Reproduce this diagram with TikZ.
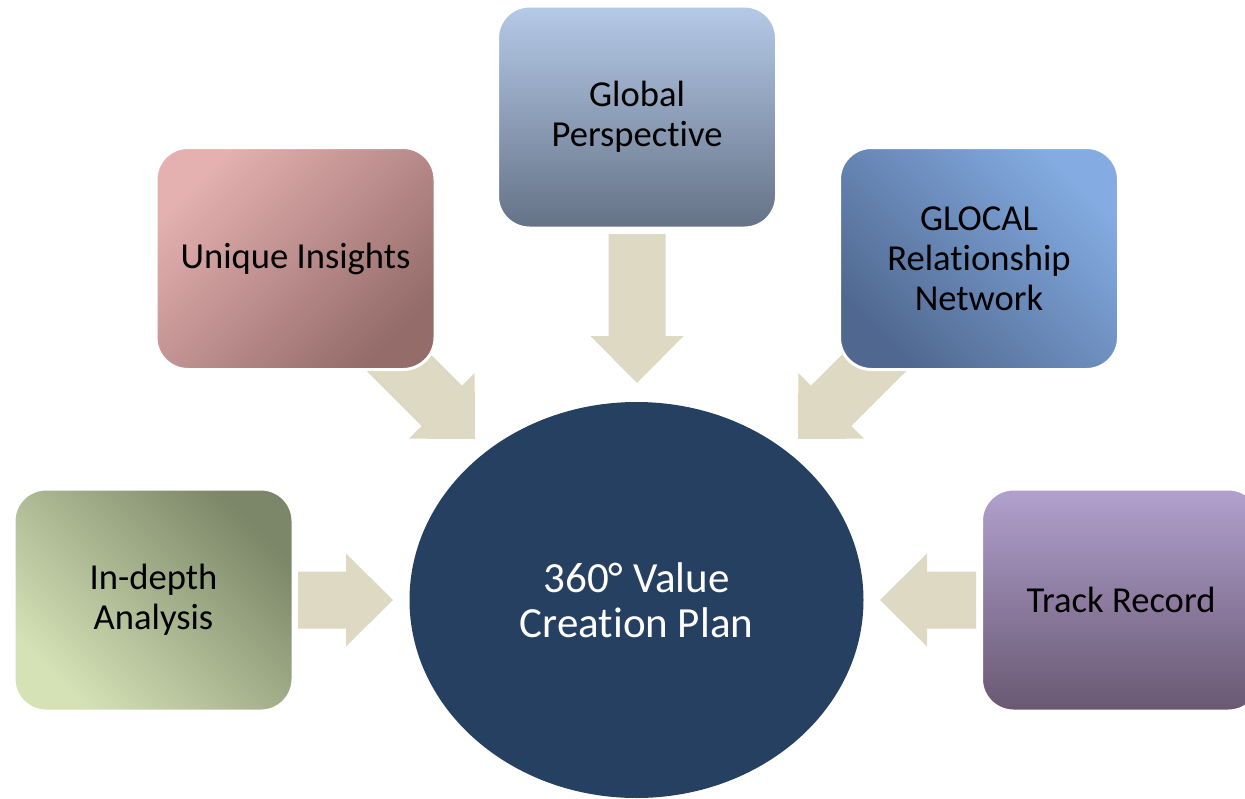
\documentclass[tikz,border=0pt]{standalone}
\usepackage{fontspec}
\usetikzlibrary{shapes.geometric}
\setmainfont{Carlito}[Ligatures=NoCommon]
\definecolor{arrowfill}{RGB}{221,217,195}
\definecolor{navy}{RGB}{38,64,97}
\definecolor{uiA}{RGB}{228,176,176}
\definecolor{uiB}{RGB}{148,108,106}
\definecolor{gpA}{RGB}{181,202,232}
\definecolor{gpB}{RGB}{100,114,134}
\definecolor{glA}{RGB}{132,172,226}
\definecolor{glB}{RGB}{80,104,144}
\definecolor{idA}{RGB}{212,226,182}
\definecolor{idB}{RGB}{124,134,104}
\definecolor{trA}{RGB}{178,160,206}
\definecolor{trB}{RGB}{104,88,114}
\tikzset{
  box/.style={rounded corners=32pt, draw=white, line width=3pt,
    minimum width=279pt, minimum height=222pt, align=center,
    font=\fontsize{36.6}{40}\selectfont, text=black, inner sep=0pt},
  hub/.style={ellipse, fill=navy, draw=none, minimum width=454pt,
    minimum height=396pt, align=center, text=white,
    font=\fontsize{43}{45.5}\selectfont},
}
\newcommand{\blockarrow}[3]{%
  \begin{scope}[shift={(#1)}, rotate=#2]
    \fill[arrowfill] (0,0) -- (-47,46.5) -- (-47,28.5) -- (-#3,28.5)
      -- (-#3,-28.5) -- (-47,-28.5) -- (-47,-46.5) -- cycle;
  \end{scope}}
\begin{document}
\begin{tikzpicture}[x=1pt,y=-1pt]
\useasboundingbox (0,0) rectangle (1245,798);
\clip (0,0) rectangle (1245,798);
% arrow tips
\coordinate (tipUI) at (475,439);
\coordinate (tipGP) at (637,383);
\coordinate (tipGL) at (798,439);
\coordinate (tipID) at (393,600);
\coordinate (tipTR) at (880,600);
\blockarrow{tipUI}{-45}{149}
\blockarrow{tipGP}{-90}{149}
\blockarrow{tipGL}{-135}{149}
\blockarrow{tipID}{0}{95}
\blockarrow{tipTR}{180}{96}
% boxes
\node[box, left color=uiA, right color=uiB, shading angle=45] (ui) at (295.5,258.5) {Unique Insights};
\node[box, top color=gpA, bottom color=gpB] (gp) at (637,117) {Global\\Perspective};
\node[box, left color=glA, right color=glB, shading angle=-45] (gl) at (979,258.5) {GLOCAL\\Relationship\\Network};
\node[box, left color=idB, right color=idA, shading angle=-45] (id) at (153.5,600) {In-depth\\Analysis};
\node[box, top color=trA, bottom color=trB] (tr) at (1121,600) {Track Record};
% hub
\node[hub] (hub) at (636.5,600) {360° Value\\Creation Plan};
\end{tikzpicture}
\end{document}
